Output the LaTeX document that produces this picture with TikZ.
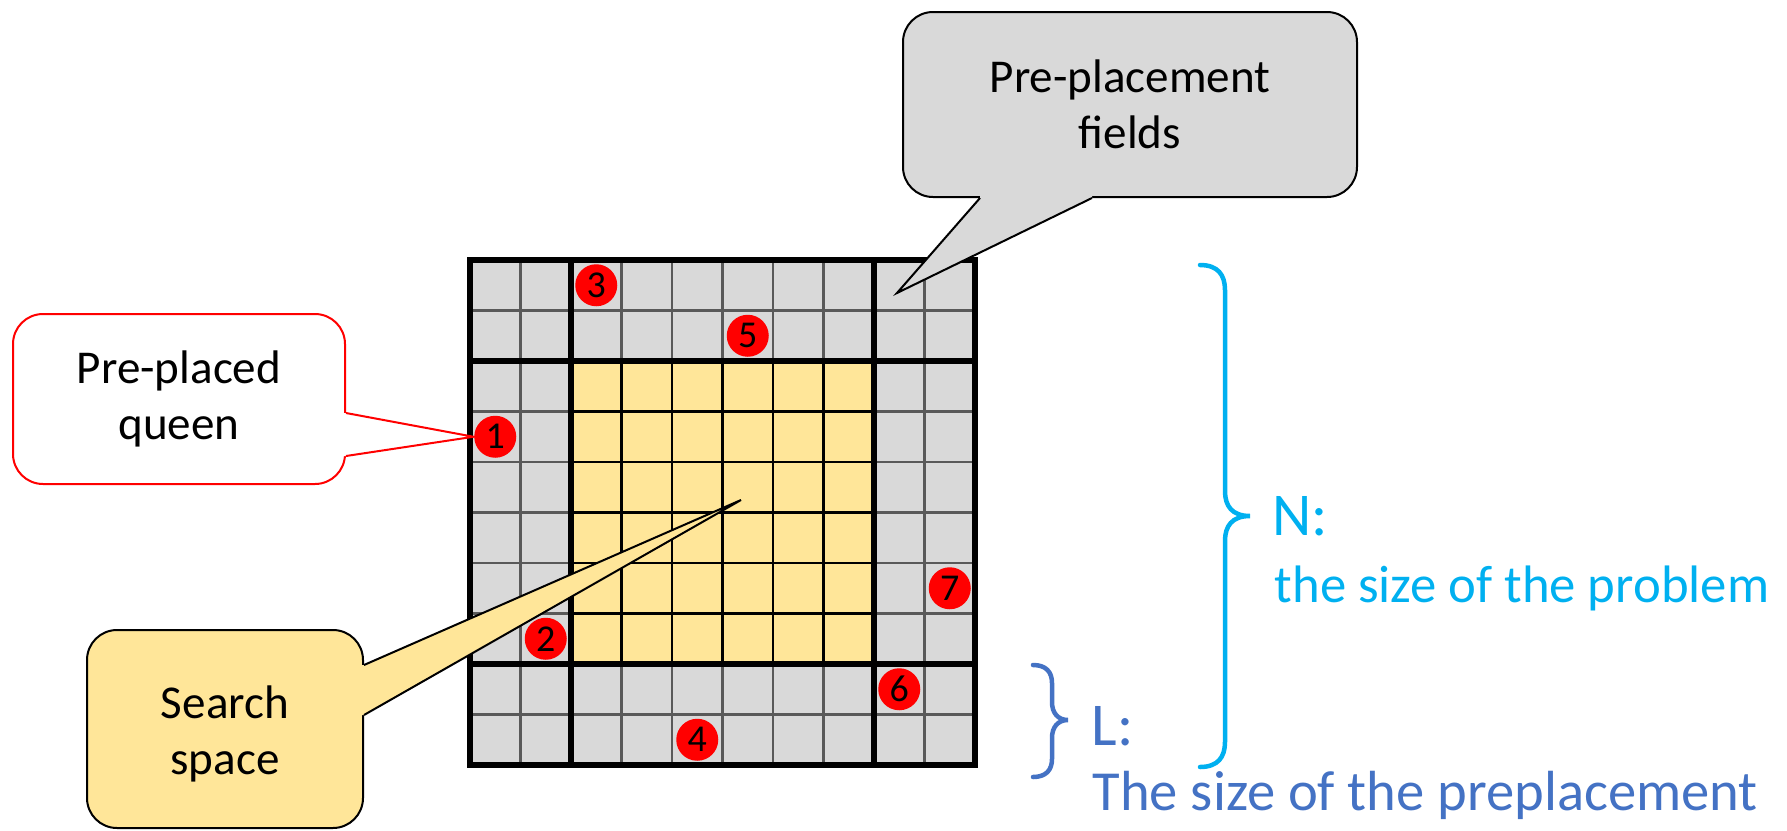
\documentclass[tikz,border=0pt]{standalone}
\usepackage{fontspec}
\setmainfont{Carlito}
\usetikzlibrary{calc}
\definecolor{cellgray}{HTML}{D9D9D9}
\definecolor{linegray}{HTML}{595959}
\definecolor{searchyellow}{HTML}{FFE699}
\definecolor{nblue}{HTML}{00B0F0}
\definecolor{lblue}{HTML}{4472C4}
\begin{document}
\begin{tikzpicture}[x=0.1mm, y=-0.1mm,
  bubble/.style={draw, line width=0.2mm, rounded corners=3mm, align=center,
                 inner sep=0pt, font=\fontsize{13.4}{15.9}\selectfont},
  tail/.style={line width=0.2mm},
  queen/.style={circle, fill=red, minimum size=4.2mm, inner sep=0pt,
                font=\fontsize{10.8}{11}\selectfont},
  thinline/.style={line width=0.27mm},
  thickline/.style={line width=0.65mm},
  bracel/.style={line width=0.45mm, line cap=round},
  labbig/.style={anchor=base west, inner sep=0pt, font=\fontsize{17.3}{20}\selectfont},
  labsub/.style={anchor=base west, inner sep=0pt}
]
\useasboundingbox (0,0) rectangle (1787,830);
\def\cell{50.5}
\begin{scope}[shift={(470,260)}]
  \fill[cellgray] (0,0) rectangle (10*\cell,10*\cell);
  \fill[searchyellow] (2*\cell,2*\cell) rectangle (8*\cell,8*\cell);
  \foreach \i in {1,...,9} {
    \draw[thinline, linegray] (\i*\cell,0) -- (\i*\cell,10*\cell);
    \draw[thinline, linegray] (0,\i*\cell) -- (10*\cell,\i*\cell);
  }
  \foreach \i in {3,...,7} {
    \draw[thinline] (\i*\cell,2*\cell) -- (\i*\cell,8*\cell);
    \draw[thinline] (2*\cell,\i*\cell) -- (8*\cell,\i*\cell);
  }
  \foreach \i in {2,8} {
    \draw[thickline] (\i*\cell,0) -- (\i*\cell,10*\cell);
    \draw[thickline] (0,\i*\cell) -- (10*\cell,\i*\cell);
  }
  \draw[thickline] (0,0) rectangle (10*\cell,10*\cell);
  \foreach \n/\c/\r in {1/0/3, 2/1/7, 3/2/0, 4/4/9, 5/5/1, 6/8/8, 7/9/6}
    \node[queen] (q\n) at ({(\c+0.5)*\cell},{(\r+0.5)*\cell}) {\n};
\end{scope}

\node[bubble, draw=red, fill=white, minimum width=33.2mm, minimum height=17mm] (pq) at (179,399) {Pre-placed\\queen};
\fill[white] ($(pq.east)+(-3,14)$) -- ($(pq.east)+(0,14)$) -- (q1.west) -- ($(pq.east)+(0,57)$) -- ($(pq.east)+(-3,57)$) -- cycle;
\draw[tail, red] ($(pq.east)+(0,14)$) -- (q1.west) -- ($(pq.east)+(0,57)$);

\node[bubble, fill=searchyellow, minimum width=27.6mm, minimum height=19.8mm] (ss) at (225,729)
  {\raisebox{-0.6mm}[\height][\depth]{\begin{tabular}{@{}c@{}}Search\\space\end{tabular}}};
\coordinate (sstip) at (741,500);
\fill[searchyellow] ($(ss.east)+(-3,-64)$) -- ($(ss.east)+(0,-64)$) -- (sstip) -- ($(ss.east)+(0,-14)$) -- ($(ss.east)+(-3,-14)$) -- cycle;
\draw[tail] ($(ss.east)+(0,-64)$) -- (sstip) -- ($(ss.east)+(0,-14)$);

\node[bubble, fill=cellgray, minimum width=45.4mm, minimum height=18.5mm] (pf) at (1130,104.5) {Pre-placement\\fields};
\coordinate (pftip) at (897,293);
\fill[cellgray] ($(pf.south)+(-150,-3)$) -- ($(pf.south)+(-150,0)$) -- (pftip) -- ($(pf.south)+(-38,0)$) -- ($(pf.south)+(-38,-3)$) -- cycle;
\draw[tail] ($(pf.south)+(-150,0)$) -- (pftip) -- ($(pf.south)+(-38,0)$);

\draw[bracel, nblue] (1200,265) .. controls (1218,265) and (1225,275) .. (1225,290) -- (1225,491)
  .. controls (1225,506) and (1232,516) .. (1250,516) .. controls (1232,516) and (1225,526) .. (1225,541)
  -- (1225,742) .. controls (1225,757) and (1218,767) .. (1200,767);
\draw[bracel, lblue] (1033,665) .. controls (1046,665) and (1052,672) .. (1052,683) -- (1052,702)
  .. controls (1052,713) and (1058,720) .. (1068,720) .. controls (1058,720) and (1052,727) .. (1052,738)
  -- (1052,759) .. controls (1052,770) and (1046,777) .. (1033,777);

\node[labbig, nblue] (nlab) at (1272,535) {N:};
\node[labsub, nblue, font=\fontsize{15}{18}\selectfont] (nsub) at (1274,602) {the size of the problem};
\node[labbig, lblue] (llab) at (1091,745) {L:};
\node[labsub, lblue, font=\fontsize{16.1}{18}\selectfont] (lsub) at (1092,810) {The size of the preplacement};
\end{tikzpicture}
\end{document}
